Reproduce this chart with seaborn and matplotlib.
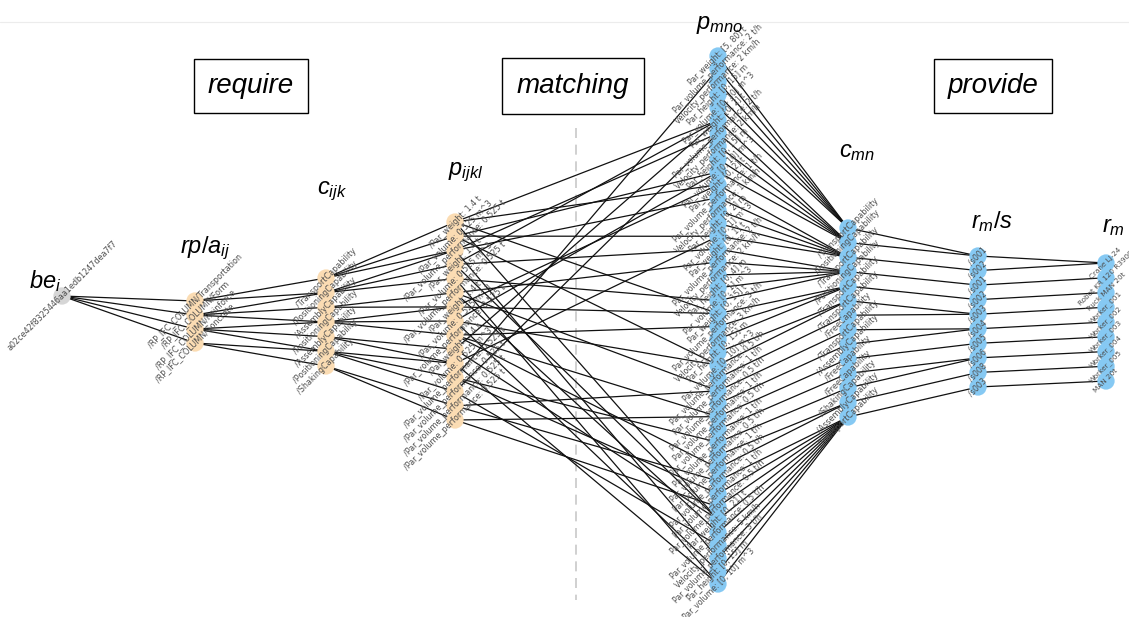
"""
Layered require / matching / provide network, drawn with seaborn + matplotlib.
"""
import numpy as np
import pandas as pd
import matplotlib
matplotlib.use("Agg")
import matplotlib.pyplot as plt
from matplotlib.collections import LineCollection
import seaborn as sns

# ---- node labels per layer ----
be_nodes = ["a02ce42f8325446aa1edb1247dea7f7"]
rp_nodes = ["/RP_IFC_COLUMN/Transportation", "/RP_IFC_COLUMN/Form",
            "/RP_IFC_COLUMN/Reinforce", "/RP_IFC_COLUMN/Concrete"]
cijk_nodes = ["/TransportCapability", "/PositioningCapability", "/AssemblyCapability",
              "/PositioningCapability", "/AssemblyCapability", "/PositioningCapability",
              "/ShakingCapability"]
pijkl_nodes = ["/Par_weight: 1.4 t", "/Par_volume: 0.525 m^3", "/Par_volume_performance: 0.525 t",
               "/Par_weight: 1.4 t", "/Par_volume: 0.525 m^3", "/Par_volume_performance: 0.525 t",
               "/Par_weight: 1.4 t", "/Par_volume: 0.525 m^3", "/Par_volume_performance: 0.525 t",
               "/Par_weight: 1.4 t", "/Par_volume: 0.525 m^3", "/Par_volume_performance: 0.525 t",
               "/Par_volume_performance: 0.525 t", "/Par_volume_performance: 0.525 t",
               "/Par_volume_performance: 0.525 t"]
pmno_nodes = ["Par_weight: [5, 80] t", "Par_volume_performance: 2 t/h", "Velocity_performance: 2 km/h",
              "Par_height: [0, 15] m", "Par_volume: [0, 10] m^3",
              "Par_weight: [0, 2] t", "Par_volume_performance: 2 t/h", "Velocity_performance: 2 km/h",
              "Par_height: [0, 15] m", "Par_volume: [0, 10] m^3",
              "Par_weight: [0, 2] t", "Par_volume_performance: 1 t/h", "Velocity_performance: 1 km/h",
              "Par_height: [0, 2] m", "Par_volume: [0, 1] m^3",
              "Par_weight: [0, 1] t", "Par_volume_performance: 2 t/h", "Velocity_performance: 2 km/h",
              "Par_height: [0, 4] m", "Par_volume: [0, 1] m^3",
              "Par_weight: [0, 15] t", "Par_volume_performance: 3 t/h", "Velocity_performance: 3 km/h",
              "Par_height: [0, 15] m", "Par_volume: [0, 10] m^3",
              "Par_volume_performance: 0.5 t/h", "Par_volume_performance: 1 t/h",
              "Par_volume_performance: 0.5 t/h", "Par_volume_performance: 1 t/h",
              "Par_volume_performance: 0.5 t/h", "Par_volume_performance: 1 t/h",
              "Par_volume_performance: 0.5 t/h", "Par_volume_performance: 1 t/h",
              "Par_volume_performance: 0.5 t/h", "Par_volume_performance: 1 t/h",
              "Par_volume_performance: 0.5 t/h",
              "Par_weight: [0, 21] t", "Par_volume_performance: 0.5 t/h", "Velocity_performance: 5 km/h",
              "Par_volume_performance: 3 t/h", "Par_height: [0, 15] m", "Par_volume: [0, 10] m^3"]
cmn_nodes = ["/TransportCapability", "/PositioningCapability", "/TransportCapability",
             "/PositioningCapability", "/TransportCapability", "/TransportCapability",
             "/FreeCapability", "/TransportCapability", "/AssemblyCapability",
             "/FreeCapability", "/FreeCapability", "/ShakingCapability",
             "/AssemblyCapability", "/TransportCapability"]
s_nodes = ["/s001", "/s002", "/s001", "/s002", "/s003", "/s004", "/s005", "/s006", "/s008", "/s003"]
r_nodes = ["Crane LJ-24", "Robot KR 120 R3900", "Truck MAN 20t", "Worker_001", "Worker_002",
           "Worker_003", "Worker_004", "Worker_005", "MAN 20t"]

# ---- edges (source index -> target index) between consecutive layers ----
be_rp = [(0, 0), (0, 1), (0, 2), (0, 3)]
rp_cijk = [(0, 0), (0, 1), (1, 1), (1, 2), (1, 3), (2, 3), (2, 4), (2, 5), (3, 5), (3, 6)]
cijk_pijkl = [(0, 0), (0, 1), (0, 2), (1, 2), (1, 3), (1, 4), (2, 5), (2, 6), (3, 6), (3, 7),
              (3, 8), (4, 9), (4, 10), (5, 10), (5, 11), (5, 12), (6, 13), (6, 14)]
pijkl_pmno = [(0, 5), (0, 10), (0, 20), (0, 36), (1, 9), (1, 14), (1, 24),
              (2, 6), (2, 11), (2, 39), (3, 5), (3, 15), (3, 36), (4, 19), (4, 41),
              (5, 16), (5, 26), (5, 37), (6, 10), (6, 20), (7, 9), (7, 24), (7, 40),
              (8, 21), (8, 28), (8, 32), (9, 5), (9, 36), (10, 14), (10, 41),
              (11, 1), (11, 30), (11, 34), (12, 6), (12, 38), (13, 26), (13, 33),
              (14, 28), (14, 35)]
pmno_cmn = [(i, c) for i, c in enumerate(
    [0, 0, 0, 0, 0, 1, 1, 1, 1, 1, 2, 2, 2, 2, 2, 3, 3, 3, 3, 3, 4, 4, 4, 5, 5,
     6, 7, 8, 9, 10, 11, 12, 12, 13, 13, 13, 13, 13, 13, 13, 13, 13])]
cmn_s = [(0, 0), (1, 0), (2, 1), (3, 2), (4, 3), (5, 4), (6, 4), (7, 5), (8, 5),
         (9, 6), (10, 7), (11, 7), (12, 8), (13, 9)]
s_r = [(0, 0), (1, 0), (2, 1), (3, 2), (4, 3), (5, 4), (6, 5), (7, 6), (8, 7), (9, 8)]

layers = [be_nodes, rp_nodes, cijk_nodes, pijkl_nodes, pmno_nodes, cmn_nodes, s_nodes, r_nodes]
groups = ["be", "req", "req", "req", "prov", "prov", "prov", "prov"]
edge_sets = [be_rp, rp_cijk, cijk_pijkl, pijkl_pmno, pmno_cmn, cmn_s, s_r]
titles = [r"$be_i$", r"$rp/a_{ij}$", r"$c_{ijk}$", r"$p_{ijkl}$",
          r"$p_{mno}$", r"$c_{mn}$", r"$r_m/s$", r"$r_m$"]

# layout (pixel space of a 1129 x 617 canvas)
layer_x = [62, 195, 326, 455, 718, 848, 978, 1106]
layer_span = [(296, 296), (301, 343), (278, 366), (222, 420),
              (56, 584), (228, 417), (256, 387), (263, 381)]
label_size = [5.8, 5.8, 5.8, 5.8, 5.6, 5.8, 5.8, 5.2]
title_pos = [(45, 281), (205, 248), (332, 191), (466, 172),
             (720, 25), (857, 152), (992, 222), (1113, 227)]

palette = {"be": "#d6d6d6", "req": "#fbdcb3", "prov": "#86c9f3"}

# ---- build node table ----
rows = []
for li, (names, grp) in enumerate(zip(layers, groups)):
    ys = np.linspace(layer_span[li][0], layer_span[li][1], len(names))
    for ni, (name, y) in enumerate(zip(names, ys)):
        rows.append({"layer": li, "idx": ni, "label": name, "x": layer_x[li], "y": y, "group": grp})
nodes = pd.DataFrame(rows)
pos = {(r.layer, r.idx): (r.x, r.y) for r in nodes.itertuples()}

segments = []
for li, edges in enumerate(edge_sets):
    for a, b in edges:
        segments.append([pos[(li, a)], pos[(li + 1, b)]])

sns.set_theme(style="white")
plt.rcParams["font.family"] = ["Liberation Sans", "DejaVu Sans"]
plt.rcParams["mathtext.fontset"] = "custom"
plt.rcParams["mathtext.it"] = "Liberation Sans:italic"
plt.rcParams["mathtext.rm"] = "Liberation Sans"

fig = plt.figure(figsize=(11.29, 6.17), dpi=100)
ax = fig.add_axes([0, 0, 1, 1])

ax.axhline(22, color="#ececec", lw=0.8, zorder=0)
ax.plot([576, 576], [128, 600], ls=(0, (6, 4)), color="#c8c8c8", lw=1.2, zorder=0)

ax.add_collection(LineCollection(segments, colors="#111111", linewidths=0.9, zorder=1))

sns.scatterplot(data=nodes, x="x", y="y", hue="group", palette=palette, s=155,
                linewidth=0, legend=False, ax=ax, zorder=2)
ax.set_xlim(0, 1129)
ax.set_ylim(617, 0)
ax.axis("off")

for r in nodes.itertuples():
    ax.text(r.x, r.y, r.label, rotation=45, ha="center", va="center",
            fontsize=label_size[r.layer], color="#4d4d4d", rotation_mode="anchor", zorder=3,
            family=["DejaVu Sans"])

for (tx, ty), t in zip(title_pos, titles):
    ax.text(tx, ty, t, fontsize=17, color="black", ha="center", va="center", zorder=4)

for tx, t, pad in [(251, "require", 0.5), (573, "matching", 0.55), (993, "provide", 0.5)]:
    ax.text(tx, 86, t, fontsize=20, style="italic", color="black", ha="center", va="center",
            bbox=dict(boxstyle=f"square,pad={pad}", fc="white", ec="black", lw=1.0))

plt.savefig("out.png", dpi=100)
